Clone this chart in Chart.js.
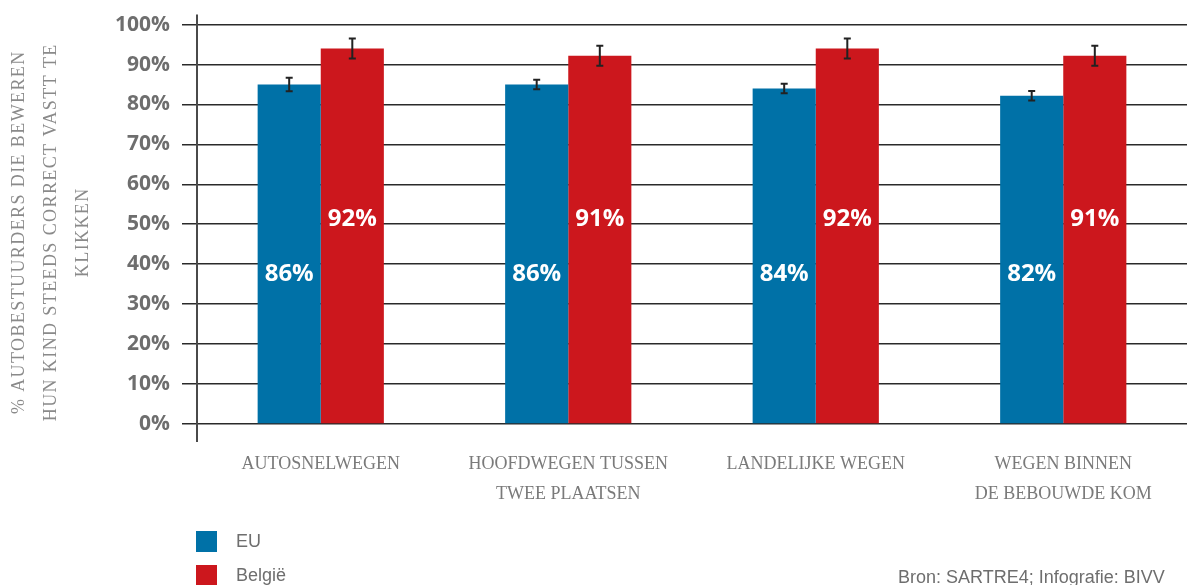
<!DOCTYPE html>
<html>
<head>
<meta charset="utf-8">
<script src="https://cdn.jsdelivr.net/npm/chart.js@4"></script>
<style>
  body { margin: 0; background: #fff; }
  #wrap { position: relative; width: 1187px; height: 585px; overflow: hidden; }
  #legend { position: absolute; left: 196px; top: 524px; font-family: "Liberation Sans", sans-serif; font-size: 18px; color: #6e6e6e; }
  .item { display: flex; align-items: center; height: 34px; }
  .box { width: 21px; height: 21px; margin-right: 19px; }
  #source { position: absolute; left: 898px; top: 567px; font-family: "Liberation Sans", sans-serif; font-size: 18px; color: #6e6e6e; white-space: nowrap; }
</style>
</head>
<body>
<div id="wrap">
  <canvas id="myChart"></canvas>
  <div id="legend"></div>
  <div id="source">Bron: SARTRE4; Infografie: BIVV</div>
</div>
<script>
const categories = [
  "AUTOSNELWEGEN",
  ["HOOFDWEGEN TUSSEN", "TWEE PLAATSEN"],
  "LANDELIJKE WEGEN",
  ["WEGEN BINNEN", "DE BEBOUWDE KOM"],
];
const seriesNames = ["EU", "België"];
const euValues = [85, 85, 84, 82.2];
const beValues = [94, 92.2, 94, 92.2];
const euErrors = [1.7, 1.2, 1.2, 1.2];
const beErrors = [2.5, 2.5, 2.5, 2.5];
const euLabels = ["86%", "86%", "84%", "82%"];
const beLabels = ["92%", "91%", "92%", "91%"];
const yTicks = [0, 10, 20, 30, 40, 50, 60, 70, 80, 90, 100];
const yTitle = ["% AUTOBESTUURDERS DIE BEWEREN", "HUN KIND STEEDS CORRECT VASTT TE", "KLIKKEN"];

const blue = "#0071a7";
const red = "#cc171d";

// error bars on top of every bar
const errorBars = {
  id: "errorBars",
  afterDatasetsDraw(chart) {
    const ctx = chart.ctx;
    const y = chart.scales.y;
    ctx.save();
    ctx.strokeStyle = "#222";
    ctx.lineWidth = 2;
    chart.data.datasets.forEach((ds, i) => {
      chart.getDatasetMeta(i).data.forEach((bar, j) => {
        const v = ds.data[j];
        const e = ds.errors[j];
        const top = y.getPixelForValue(v + e);
        const bot = y.getPixelForValue(v - e);
        ctx.beginPath();
        ctx.moveTo(bar.x, top);
        ctx.lineTo(bar.x, bot);
        ctx.moveTo(bar.x - 3.5, top);
        ctx.lineTo(bar.x + 3.5, top);
        ctx.moveTo(bar.x - 3.5, bot);
        ctx.lineTo(bar.x + 3.5, bot);
        ctx.stroke();
      });
    });
    ctx.restore();
  },
};

// white percentage labels inside the bars, at a fixed height per series
const barLabels = {
  id: "barLabels",
  afterDatasetsDraw(chart) {
    const ctx = chart.ctx;
    const y = chart.scales.y;
    const levels = [37.8, 51.5];
    ctx.save();
    ctx.fillStyle = "#fff";
    ctx.font = "bold 24px 'Open Sans'";
    ctx.textAlign = "center";
    ctx.textBaseline = "middle";
    chart.data.datasets.forEach((ds, i) => {
      chart.getDatasetMeta(i).data.forEach((bar, j) => {
        ctx.fillText(ds.labels[j], bar.x, y.getPixelForValue(levels[i]) + 1);
      });
    });
    ctx.restore();
  },
};

// y axis line sticking out above and below the plot, plus the spaced-out axis title
const axisLine = {
  id: "axisLine",
  afterDraw(chart) {
    const { ctx, chartArea } = chart;
    ctx.save();
    ctx.strokeStyle = "#4a4a4a";
    ctx.lineWidth = 2;
    ctx.beginPath();
    ctx.moveTo(chartArea.left, chartArea.top - 10);
    ctx.lineTo(chartArea.left, chartArea.bottom + 18);
    ctx.stroke();

    ctx.fillStyle = "#8a8a8a";
    ctx.font = "18px 'Liberation Serif'";
    ctx.letterSpacing = "1.4px";
    ctx.textAlign = "center";
    ctx.textBaseline = "middle";
    const mid = (chartArea.top + chartArea.bottom) / 2 + 8;
    yTitle.forEach((line, i) => {
      ctx.save();
      ctx.translate(19.5 + i * 32, mid);
      ctx.rotate(-Math.PI / 2);
      ctx.fillText(line, 0, 0);
      ctx.restore();
    });
    ctx.restore();
  },
};

const ctx = document.getElementById("myChart").getContext("2d");
const myChart = new Chart(ctx, {
  type: "bar",
  data: {
    labels: categories,
    datasets: [
      { label: seriesNames[0], data: euValues, errors: euErrors, labels: euLabels, backgroundColor: blue },
      { label: seriesNames[1], data: beValues, errors: beErrors, labels: beLabels, backgroundColor: red },
    ],
  },
  options: {
    responsive: true,
    maintainAspectRatio: false,
    animation: false,
    categoryPercentage: 0.51,
    barPercentage: 1.0,
    layout: {
      padding: { top: 22, bottom: 51, left: 0, right: 0 },
    },
    plugins: {
      legend: { display: false },
      tooltip: { enabled: false },
    },
    scales: {
      x: {
        grid: { display: false, drawTicks: false },
        border: { display: false },
        ticks: {
          color: "#7a7a7a",
          padding: 25,
          maxRotation: 0,
          autoSkip: false,
          font: { family: "'Liberation Serif'", size: 18, lineHeight: 1.67 },
        },
      },
      y: {
        min: 0,
        max: 100,
        afterFit(scale) {
          scale.width = 197;
        },
        afterBuildTicks(scale) {
          scale.ticks = yTicks.map((v) => ({ value: v }));
        },
        border: { display: false },
        grid: {
          color: "#2a2a2a",
          lineWidth: 1.5,
          tickLength: 15,
        },
        ticks: {
          color: "#6e6e6e",
          padding: 12,
          callback: (v) => v + "%",
          font: { family: "'Open Sans'", size: 21, weight: "bold" },
        },
      },
    },
  },
  plugins: [errorBars, barLabels, axisLine],
});

// legend stacked vertically under the chart
const legendEl = document.getElementById("legend");
myChart.data.datasets.forEach((ds) => {
  const item = document.createElement("div");
  item.className = "item";
  item.innerHTML = '<div class="box" style="background:' + ds.backgroundColor + '"></div><span>' + ds.label + "</span>";
  legendEl.appendChild(item);
});
</script>
</body>
</html>
